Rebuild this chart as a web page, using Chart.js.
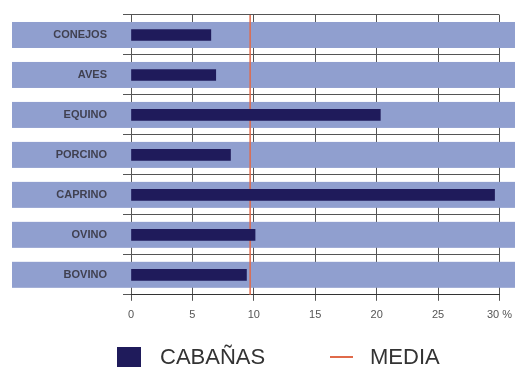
<!DOCTYPE html>
<html>
<head>
<meta charset="utf-8">
<script src="https://cdn.jsdelivr.net/npm/chart.js@4.4.0/dist/chart.umd.min.js"></script>
<style>
    html, body { margin: 0; padding: 0; background: #fff; overflow: hidden; }
    #wrap { position: relative; width: 520px; height: 367px; }
    .leg { position: absolute; font-family: 'Liberation Sans', Arial, sans-serif; font-size: 22px; line-height: 22px; color: #333; white-space: nowrap; }
    .box { position: absolute; left: 117px; top: 347px; width: 24px; height: 24px; background: #1f1b5b; }
    .line { position: absolute; left: 330px; top: 356px; width: 23px; height: 2px; background: #e06a4a; }
</style>
</head>
<body>
<div id="wrap">
    <canvas id="chart"></canvas>
    <div class="box"></div>
    <span class="leg" style="left:160px; top:346px;">CABAÑAS</span>
    <div class="line"></div>
    <span class="leg" style="left:370px; top:346px;">MEDIA</span>
</div>
<script>
// Data
const categories = ['CONEJOS', 'AVES', 'EQUINO', 'PORCINO', 'CAPRINO', 'OVINO', 'BOVINO'];
const cabanas = [6.5, 6.9, 20.3, 8.1, 29.6, 10.1, 9.4];
const media = 9.7;
const xTicks = [0, 5, 10, 15, 20, 25, 30];
const xTickLabels = ['0', '5', '10', '15', '20', '25', '30 %'];

const bandColor = '#909fcf';
const barColor = '#1f1b5b';
const mediaColor = '#e06a4a';

// light stripes behind each row, plus the average line
const rowBands = {
    id: 'rowBands',
    beforeDatasetsDraw(chart) {
        const { ctx, chartArea, scales: { x, y } } = chart;
        ctx.save();
        ctx.fillStyle = bandColor;
        categories.forEach((c, i) => {
            const cy = y.getPixelForValue(i);
            ctx.fillRect(12, cy - 13, 503, 26);
        });
        const mx = x.getPixelForValue(media);
        ctx.strokeStyle = mediaColor;
        ctx.lineWidth = 1.5;
        ctx.beginPath();
        ctx.moveTo(mx, chartArea.top);
        ctx.lineTo(mx, chartArea.bottom);
        ctx.stroke();
        ctx.restore();
    }
};

const ctx = document.getElementById('chart').getContext('2d');
new Chart(ctx, {
    type: 'bar',
    data: {
        labels: categories,
        datasets: [{
            label: 'CABAÑAS',
            data: cabanas,
            backgroundColor: barColor,
            borderWidth: 0,
            barThickness: 11
        }]
    },
    options: {
        indexAxis: 'y',
        responsive: true,
        maintainAspectRatio: false,
        animation: false,
        layout: { padding: { top: 15, right: 17, bottom: 37, left: 0 } },
        plugins: {
            legend: { display: false },
            tooltip: { enabled: false }
        },
        scales: {
            x: {
                min: 0,
                max: 30,
                afterBuildTicks: s => { s.ticks = xTicks.map(v => ({ value: v })); },
                grid: { color: '#555', lineWidth: 1, tickLength: 6 },
                border: { color: '#333', width: 1 },
                ticks: {
                    padding: 8,
                    color: '#555',
                    font: { family: "'Liberation Sans', Arial, sans-serif", size: 11 },
                    callback: (v, i) => xTickLabels[i]
                }
            },
            y: {
                afterFit: s => { s.width = 131; s.paddingTop = 0; s.paddingBottom = 0; },
                grid: { color: '#555', lineWidth: 1, tickLength: 8 },
                border: { display: false },
                ticks: {
                    z: 1,
                    padding: 16,
                    color: '#404050',
                    font: { family: "'Liberation Sans', Arial, sans-serif", size: 11, weight: 'bold' }
                }
            }
        }
    },
    plugins: [rowBands]
});
</script>
</body>
</html>
